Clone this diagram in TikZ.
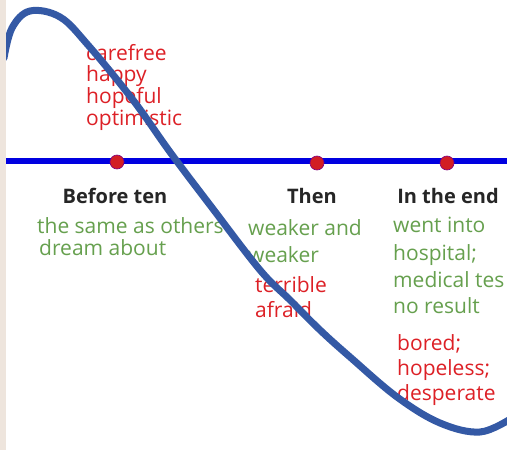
\documentclass[tikz,border=0pt]{standalone}
\usepackage{fontspec}
\setmainfont{Open Sans}
\begin{document}
\begin{tikzpicture}[x=1pt,y=-1pt,
  redtxt/.style={font=\fontsize{21}{23}\selectfont, anchor=base west, inner sep=0pt},
  greentxt/.style={font=\fontsize{21}{23}\selectfont, anchor=base west, inner sep=0pt},
  headtxt/.style={text=black!85, font=\bfseries\fontsize{20}{22}\selectfont, anchor=base, inner sep=0pt},
  dot/.style={circle, fill=txtred!95!black, draw=blue!50!red, line width=0.6pt, minimum size=14pt, inner sep=0pt},
]
\definecolor{curveblue}{HTML}{3459A5}
\definecolor{lineblue}{HTML}{0000E0}
\definecolor{txtred}{HTML}{DD2026}
\definecolor{txtgreen}{HTML}{66A04E}
\useasboundingbox (0,0) rectangle (507,450);
\fill[white] (0,0) rectangle (507,450);
\tikzset{redtxt/.append style={text=txtred}, greentxt/.append style={text=txtgreen}}
% timeline
\coordinate (lstart) at (6,161);
\coordinate (lend) at (507,161);
\draw[lineblue, line width=6pt] (lstart) -- (lend);
% texts
\node[redtxt] (t1) at (86,60) {carefree};
\node[redtxt] (t2) at (86,81) {happy};
\node[redtxt] (t3) at (86,103) {hopeful};
\node[redtxt] (t4) at (86,125) {optimistic};
\node[headtxt] (h1) at (115,203) {Before ten};
\node[headtxt] (h2) at (312,203) {Then};
\node[headtxt] (h3) at (448,203) {In the end};
\node[greentxt] (g1) at (37,233) {the same as others};
\node[greentxt] (g2) at (39,255) {dream about};
\node[greentxt] (g3) at (248,235) {weaker and};
\node[greentxt] (g4) at (248,262) {weaker};
\node[redtxt] (r1) at (255,292) {terrible};
\node[redtxt] (r2) at (255,317) {afraid};
\node[greentxt] (g5) at (393,232) {went into};
\node[greentxt] (g6) at (393,260) {hospital;};
\node[greentxt] (g7) at (393,287) {medical tes};
\node[greentxt] (g8) at (393,313) {no result};
\node[redtxt] (r3) at (397,350) {bored;};
\node[redtxt] (r4) at (397,375) {hopeless;};
\node[redtxt] (r5) at (397,400) {desperate};
% curve
\begin{scope}
\clip (0,0) rectangle (507,450);
\draw[curveblue, line width=7pt, line cap=round] plot[smooth, tension=0.6] coordinates {
 (4,58) (12,28) (30,11) (60,17) (88,45) (133,100) (170,152) (210,205) (260,270) (290,300) (320,330) (350,357) (397,397) (440,423) (480,432) (512,418)};
\end{scope}
% dots
\node[dot] (d1) at (117,162) {};
\node[dot] (d2) at (317,163) {};
\node[dot] (d3) at (447,163) {};
% left strip
\fill[gray!30!brown!20!white] (0,0) rectangle (6,450);
\end{tikzpicture}
\end{document}
